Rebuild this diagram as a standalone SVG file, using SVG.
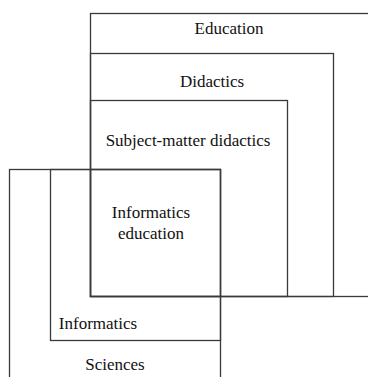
<svg xmlns="http://www.w3.org/2000/svg" width="368" height="377" viewBox="0 0 368 377">
<style>
.box{fill:none;stroke:#3a3a3a;stroke-width:1.3}
.lbl{font-family:"Liberation Serif","Times New Roman",serif;font-size:17px;fill:#111;text-anchor:middle}
</style>
<rect width="368" height="377" fill="#fff"/>
<g id="education"><rect class="box" x="90.5" y="13.5" width="300" height="283"/><text class="lbl" x="229" y="34">Education</text></g>
<g id="didactics"><rect class="box" x="90.5" y="53.5" width="243" height="243"/><text class="lbl" x="212" y="87">Didactics</text></g>
<g id="subject"><rect class="box" x="90.5" y="100.5" width="197" height="196"/><text class="lbl" x="188" y="146">Subject-matter didactics</text></g>
<g id="sciences"><rect class="box" x="9.5" y="169.5" width="211" height="230"/><text class="lbl" x="115" y="370">Sciences</text></g>
<g id="informatics"><rect class="box" x="50.5" y="169.5" width="170" height="171"/><text class="lbl" x="98" y="329">Informatics</text></g>
<g id="infoedu"><rect class="box" x="90.5" y="169.5" width="130" height="127"/><text class="lbl" x="151" y="218">Informatics</text><text class="lbl" x="151" y="239">education</text></g>
<g id="connectors"></g>
</svg>
